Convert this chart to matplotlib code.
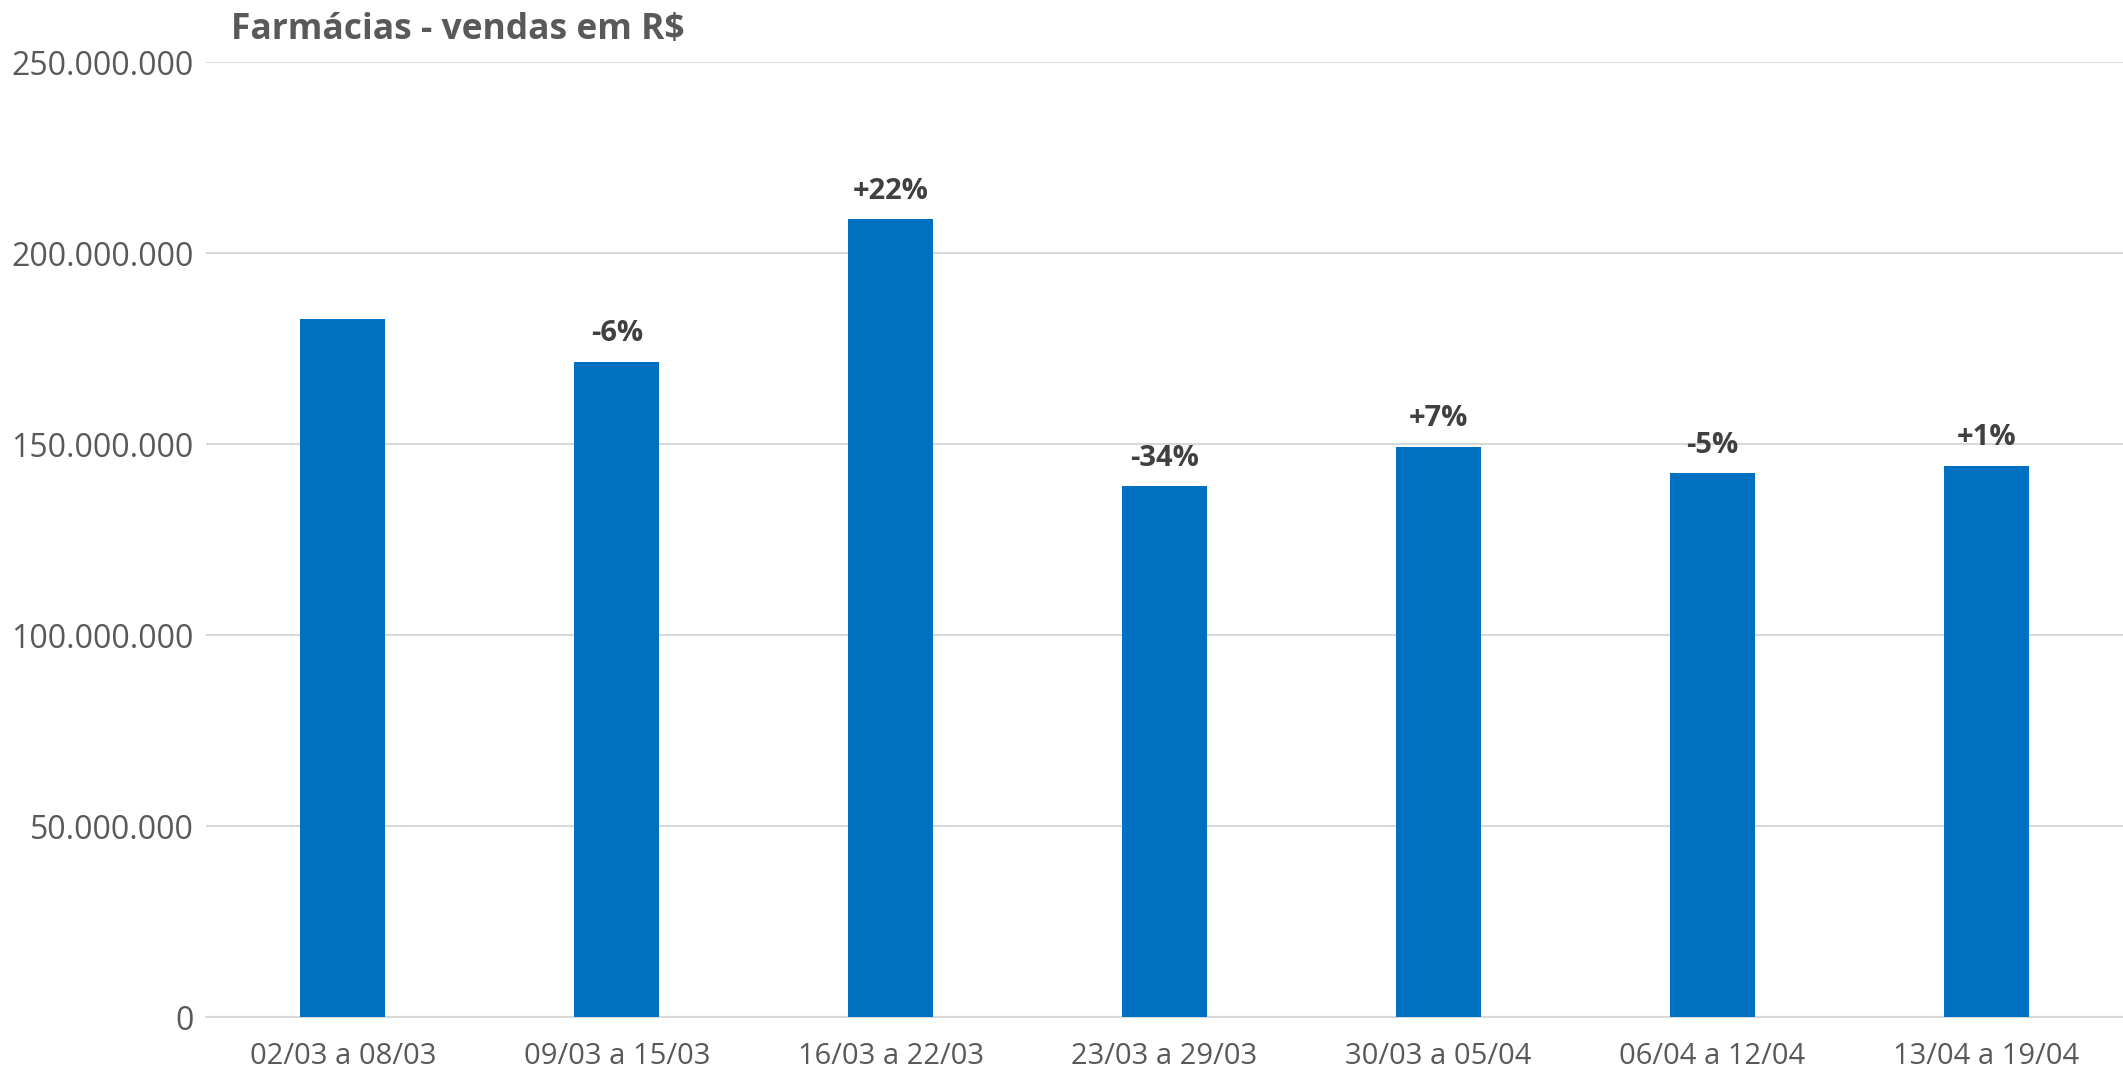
import matplotlib
matplotlib.use("Agg")
import matplotlib.pyplot as plt
from matplotlib.ticker import FuncFormatter

# ---------------------------------------------------------------------------
# Data
# ---------------------------------------------------------------------------

weeks = [
    "02/03 a 08/03", "09/03 a 15/03", "16/03 a 22/03", "23/03 a 29/03",
    "30/03 a 05/04", "06/04 a 12/04", "13/04 a 19/04",
]
sales = [182.7e6, 171.4e6, 208.8e6, 138.9e6, 149.3e6, 142.3e6, 144.2e6]
changes = ["", "-6%", "+22%", "-34%", "+7%", "-5%", "+1%"]
yticks = [0, 50e6, 100e6, 150e6, 200e6, 250e6]

TITLE = "Farmácias - vendas em R$"
BAR_COLOR = "#0070C0"
TEXT_GREY = "#595959"

plt.rcParams["font.family"] = ["Open Sans", "DejaVu Sans"]

fig = plt.figure(figsize=(21.23, 10.77), dpi=100)
ax = fig.add_axes([0.097, 0.0557, 0.903, 0.8867])

x = range(len(weeks))
bars = ax.bar(x, sales, width=0.31, color=BAR_COLOR, zorder=3)

# week-over-week change above each bar
for rect, lab in zip(bars, changes):
    if not lab:
        continue
    ax.annotate(lab, (rect.get_x() + rect.get_width() / 2, rect.get_height()),
                xytext=(0, 10), textcoords="offset points",
                ha="center", va="bottom", fontsize=21, fontweight="bold",
                color="#404040")

ax.set_xlim(-0.5, len(weeks) - 0.5)
ax.set_ylim(0, 250e6)
ax.set_yticks(yticks)
ax.yaxis.set_major_formatter(FuncFormatter(lambda v, _: f"{v:,.0f}".replace(",", ".")))
ax.set_xticks(list(x))
ax.set_xticklabels(weeks)

ax.tick_params(axis="both", length=0, labelcolor=TEXT_GREY)
ax.tick_params(axis="x", pad=18, labelsize=21)
ax.tick_params(axis="y", pad=9, labelsize=23)

ax.grid(axis="y", color="#D9D9D9", linewidth=1.5, zorder=0)
for side in ("top", "right", "left"):
    ax.spines[side].set_visible(False)
ax.spines["bottom"].set_color("#D9D9D9")
ax.spines["bottom"].set_linewidth(1.5)

fig.text(0.109, 0.972, TITLE, ha="left", va="center", fontsize=25.5,
         fontweight="bold", color=TEXT_GREY)

fig.savefig("out.png", dpi=100)
